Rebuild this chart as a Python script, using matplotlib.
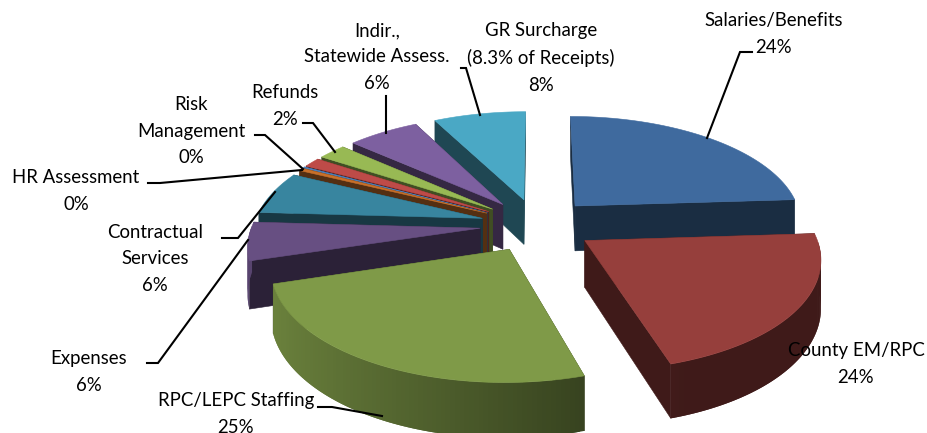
#!/usr/bin/env python3
# exploded 3D pie, drawn by hand with a simple ground-plane projection
import numpy as np
import matplotlib
matplotlib.use('Agg')
import matplotlib.pyplot as plt

# ── data ──────────────────────────────────────────────────────────────────────
categories = ['Salaries/Benefits', 'County EM/RPC', 'RPC/LEPC Staffing', 'Expenses',
              'Contractual Services', 'HR Assessment', 'Risk Management', 'Other',
              'Refunds', 'Indir., Statewide Assess.', 'GR Surcharge']
shares = [24.0, 21.3, 25.0, 5.6, 6.3, 0.4, 0.2, 1.4, 2.3, 5.9, 7.6]
top_colors = ['#3f6a9e', '#963f3c', '#7f9a48', '#674f82', '#38859f', '#c8702a',
              '#4f81bd', '#be4b48', '#98b954', '#7d60a0', '#4aa8c5']

labels = ['Salaries/Benefits\n24%', 'County EM/RPC\n24%', 'RPC/LEPC Staffing\n25%',
          'Expenses\n6%', 'Contractual\nServices\n6%', 'HR Assessment\n0%',
          'Risk\nManagement\n0%', 'Refunds\n2%', 'Indir.,\nStatewide Assess.\n6%',
          'GR Surcharge\n(8.3% of Receipts)\n8%']
label_xy = [(774, 34), (856, 364), (236, 414), (89, 372), (155, 259), (76, 191),
            (191, 131), (285, 106), (377, 57), (541, 58)]
leaders = [[(752, 52), (740, 52), (707, 138)],
           [(318, 407), (332, 407), (382, 416)],
           [(147, 363), (158, 363), (248, 240)],
           [(222, 238), (238, 238), (275, 192)],
           [(148, 183), (160, 183), (302, 170)],
           [(255, 135), (265, 135), (303, 169)],
           [(303, 123), (313, 123), (335, 152)],
           [(386, 96), (386, 133)],
           [(461, 68), (466, 68), (480, 115)]]

# ── projection ────────────────────────────────────────────────────────────────
CX, CY = 537, 225
A, B = 228, 107     # half axes in px
K = 0.14            # perspective strength
H = 46              # slice height in px
EXPLODE = 0.25


def project(u, v, drop=0.0):
    w = 1.0 / (1.0 - K * v)
    return CX + A * u * w, CY + B * v * w + drop * w


def shade(color, f):
    return tuple(c * f for c in matplotlib.colors.to_rgb(color))


fig = plt.figure(figsize=(9.27, 4.33), dpi=100)
ax = fig.add_axes([0, 0, 1, 1])
ax.set_xlim(0, 927)
ax.set_ylim(433, 0)
ax.axis('off')

edges = np.radians(np.concatenate([[0], np.cumsum(shares)]) * 3.6)
mids = (edges[:-1] + edges[1:]) / 2

# back slices first
for i in np.argsort(-np.cos(mids)):
    t = np.linspace(edges[i], edges[i + 1], max(3, int(np.degrees(edges[i + 1] - edges[i]))))
    u0, v0 = EXPLODE * np.sin(mids[i]), -EXPLODE * np.cos(mids[i])
    u, v = u0 + np.sin(t), v0 - np.cos(t)
    col = top_colors[i]

    # the two radial walls
    for k in (0, -1):
        pu, pv = np.array([u0, u[k]]), np.array([v0, v[k]])
        x1, y1 = project(pu, pv)
        x2, y2 = project(pu, pv, H)
        ax.fill(np.r_[x1, x2[::-1]], np.r_[y1, y2[::-1]], color=shade(col, 0.42), lw=0.4)

    # curved outer wall with a left to right fade, only the part facing the viewer
    for j in range(len(t) - 1):
        if np.cos(t[j]) > 0:
            continue
        s = j + 3   # strips overlap to hide seams
        x1, y1 = project(u[j:s], v[j:s])
        x2, y2 = project(u[j:s], v[j:s], H)
        f = max(0.42, 0.53 - 0.325 * np.sin((t[j] + t[j + 1]) / 2))
        ax.fill(np.r_[x1, x2[::-1]], np.r_[y1, y2[::-1]], color=shade(col, f), lw=0)

    # top face
    x, y = project(np.r_[u0, u], np.r_[v0, v])
    ax.fill(x, y, color=col, lw=0.4)

for pts in leaders:
    ax.plot(*zip(*pts), color='black', lw=1.5, zorder=3, solid_joinstyle='miter')

for txt, (x, y) in zip(labels, label_xy):
    ax.text(x, y, txt, ha='center', va='center', fontsize=13.4, family='Lato',
            color='black', linespacing=26 / (13.4 * 1.389 * 0.83), zorder=4)

fig.savefig('out.png', dpi=100)
